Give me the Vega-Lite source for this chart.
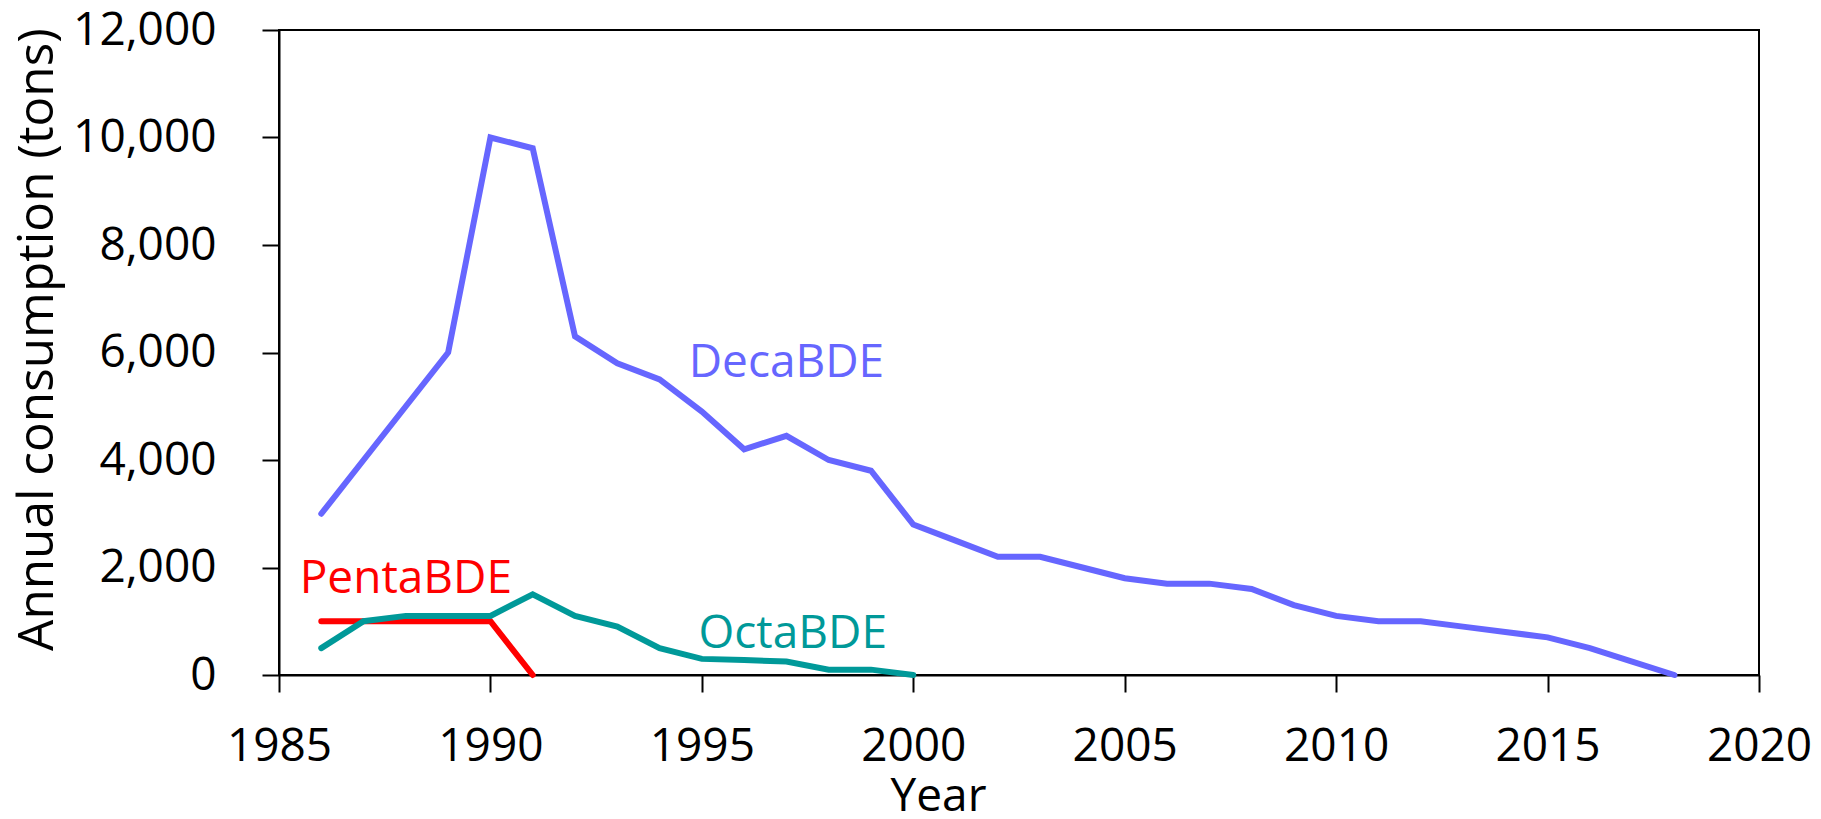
{
  "$schema": "https://vega.github.io/schema/vega-lite/v6.json",
  "autosize": {"type": "none"},
  "padding": {"left": 279, "top": 30, "right": 62, "bottom": 144},
  "width": 1480,
  "height": 645,
  "background": "white",
  "config": {
    "view": {"stroke": "black", "strokeWidth": 2},
    "font": "Open Sans",
    "axis": {
      "labelFont": "Open Sans",
      "labelFontSize": 46,
      "labelColor": "black",
      "titleFont": "Open Sans",
      "titleFontSize": 46,
      "titleFontWeight": "normal",
      "titleColor": "black",
      "tickColor": "black",
      "tickWidth": 2,
      "tickSize": 17,
      "domainColor": "black",
      "domainWidth": 2,
      "grid": false
    }
  },
  "datasets": {
    "series": [
      {"series": "DecaBDE", "year": 1986, "tons": 3000},
      {"series": "DecaBDE", "year": 1987, "tons": 4000},
      {"series": "DecaBDE", "year": 1988, "tons": 5000},
      {"series": "DecaBDE", "year": 1989, "tons": 6000},
      {"series": "DecaBDE", "year": 1990, "tons": 10000},
      {"series": "DecaBDE", "year": 1991, "tons": 9800},
      {"series": "DecaBDE", "year": 1992, "tons": 6300},
      {"series": "DecaBDE", "year": 1993, "tons": 5800},
      {"series": "DecaBDE", "year": 1994, "tons": 5500},
      {"series": "DecaBDE", "year": 1995, "tons": 4900},
      {"series": "DecaBDE", "year": 1996, "tons": 4200},
      {"series": "DecaBDE", "year": 1997, "tons": 4450},
      {"series": "DecaBDE", "year": 1998, "tons": 4000},
      {"series": "DecaBDE", "year": 1999, "tons": 3800},
      {"series": "DecaBDE", "year": 2000, "tons": 2800},
      {"series": "DecaBDE", "year": 2001, "tons": 2500},
      {"series": "DecaBDE", "year": 2002, "tons": 2200},
      {"series": "DecaBDE", "year": 2003, "tons": 2200},
      {"series": "DecaBDE", "year": 2004, "tons": 2000},
      {"series": "DecaBDE", "year": 2005, "tons": 1800},
      {"series": "DecaBDE", "year": 2006, "tons": 1700},
      {"series": "DecaBDE", "year": 2007, "tons": 1700},
      {"series": "DecaBDE", "year": 2008, "tons": 1600},
      {"series": "DecaBDE", "year": 2009, "tons": 1300},
      {"series": "DecaBDE", "year": 2010, "tons": 1100},
      {"series": "DecaBDE", "year": 2011, "tons": 1000},
      {"series": "DecaBDE", "year": 2012, "tons": 1000},
      {"series": "DecaBDE", "year": 2013, "tons": 900},
      {"series": "DecaBDE", "year": 2014, "tons": 800},
      {"series": "DecaBDE", "year": 2015, "tons": 700},
      {"series": "DecaBDE", "year": 2016, "tons": 500},
      {"series": "DecaBDE", "year": 2017, "tons": 250},
      {"series": "DecaBDE", "year": 2018, "tons": 0},
      {"series": "PentaBDE", "year": 1986, "tons": 1000},
      {"series": "PentaBDE", "year": 1987, "tons": 1000},
      {"series": "PentaBDE", "year": 1988, "tons": 1000},
      {"series": "PentaBDE", "year": 1989, "tons": 1000},
      {"series": "PentaBDE", "year": 1990, "tons": 1000},
      {"series": "PentaBDE", "year": 1991, "tons": 0},
      {"series": "OctaBDE", "year": 1986, "tons": 500},
      {"series": "OctaBDE", "year": 1987, "tons": 1000},
      {"series": "OctaBDE", "year": 1988, "tons": 1100},
      {"series": "OctaBDE", "year": 1989, "tons": 1100},
      {"series": "OctaBDE", "year": 1990, "tons": 1100},
      {"series": "OctaBDE", "year": 1991, "tons": 1500},
      {"series": "OctaBDE", "year": 1992, "tons": 1100},
      {"series": "OctaBDE", "year": 1993, "tons": 900},
      {"series": "OctaBDE", "year": 1994, "tons": 500},
      {"series": "OctaBDE", "year": 1995, "tons": 300},
      {"series": "OctaBDE", "year": 1996, "tons": 280},
      {"series": "OctaBDE", "year": 1997, "tons": 250},
      {"series": "OctaBDE", "year": 1998, "tons": 100},
      {"series": "OctaBDE", "year": 1999, "tons": 100},
      {"series": "OctaBDE", "year": 2000, "tons": 0}
    ],
    "labels": [
      {"series": "DecaBDE", "year": 1997, "tons": 5800},
      {"series": "PentaBDE", "year": 1988, "tons": 1780},
      {"series": "OctaBDE", "year": 1997.15, "tons": 760}
    ]
  },
  "encoding": {
    "x": {
      "field": "year",
      "type": "quantitative",
      "scale": {"domain": [1985, 2020], "nice": false, "zero": false},
      "axis": {
        "values": [1985, 1990, 1995, 2000, 2005, 2010, 2015, 2020],
        "format": "d",
        "labelPadding": 32,
        "labelFlush": false,
        "labelOverlap": false,
        "title": "Year",
        "titleX": 659,
        "titleY": 135,
        "titleAlign": "center",
        "titleBaseline": "alphabetic"
      }
    },
    "y": {
      "field": "tons",
      "type": "quantitative",
      "scale": {"domain": [0, 12000], "nice": false},
      "axis": {
        "values": [0, 2000, 4000, 6000, 8000, 10000, 12000],
        "format": ",.0f",
        "labelPadding": 46,
        "labelFlush": false,
        "labelOverlap": false,
        "title": "Annual consumption (tons)",
        "titleFontSize": 49.5,
        "titleX": -227,
        "titleY": 309,
        "titleAngle": -90,
        "titleAlign": "center",
        "titleBaseline": "alphabetic"
      }
    },
    "color": {
      "field": "series",
      "type": "nominal",
      "scale": {"domain": ["DecaBDE", "PentaBDE", "OctaBDE"], "range": ["#6666FF", "#FF0000", "#009999"]},
      "legend": null
    }
  },
  "layer": [
    {
      "data": {"name": "series"},
      "transform": [{"filter": "datum.series === 'DecaBDE'"}],
      "mark": {"type": "line", "strokeWidth": 6, "strokeCap": "round", "strokeJoin": "miter"}
    },
    {
      "data": {"name": "series"},
      "transform": [{"filter": "datum.series === 'PentaBDE'"}],
      "mark": {"type": "line", "strokeWidth": 6, "strokeCap": "round", "strokeJoin": "miter"}
    },
    {
      "data": {"name": "series"},
      "transform": [{"filter": "datum.series === 'OctaBDE'"}],
      "mark": {"type": "line", "strokeWidth": 6, "strokeCap": "round", "strokeJoin": "miter"}
    },
    {
      "data": {"name": "labels"},
      "mark": {"type": "text", "font": "Open Sans", "fontSize": 46, "align": "center", "baseline": "middle"},
      "encoding": {"text": {"field": "series"}}
    }
  ]
}
